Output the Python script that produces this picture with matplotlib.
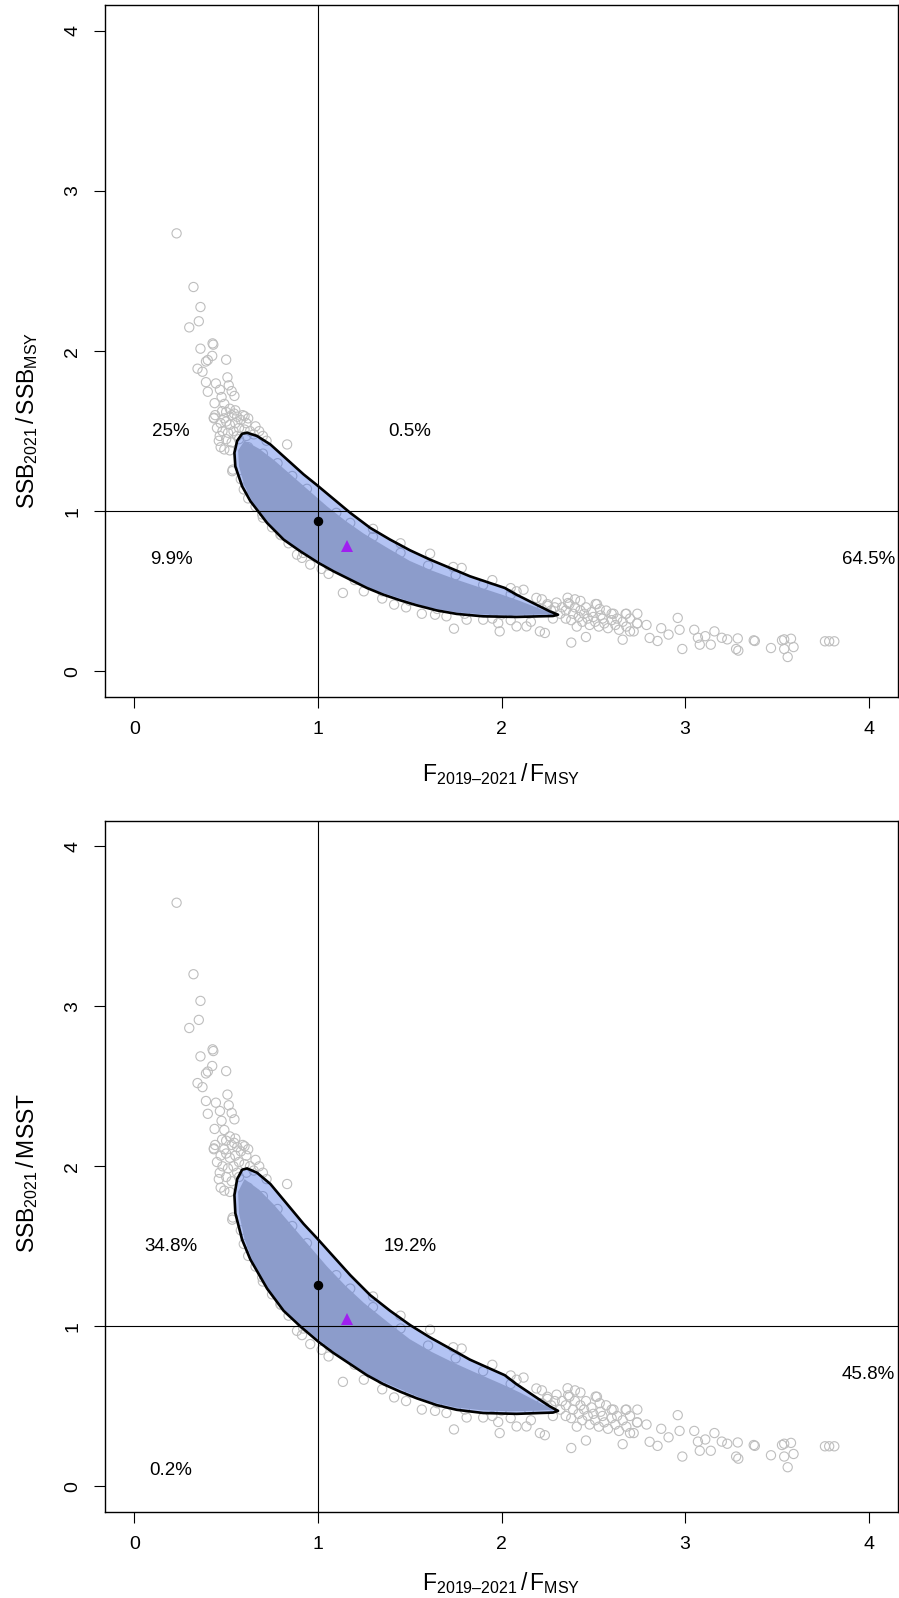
import matplotlib
matplotlib.use("Agg")
import matplotlib.pyplot as plt
from matplotlib.patches import Polygon

# Kobe-style phase plots: F/FMSY against SSB/SSBMSY and SSB/MSST

# bootstrap runs that fall outside / along the edges of the density contour
run_points = [
    (0.23, 2.735), (0.322, 2.40), (0.36, 2.275), (0.351, 2.186), (0.299, 2.148),
    (0.426, 2.048), (0.43, 2.04), (0.36, 2.015), (0.424, 1.97), (0.50, 1.946),
    (0.40, 1.944), (0.39, 1.935), (0.344, 1.89), (0.371, 1.871), (0.507, 1.836),
    (0.39, 1.806), (0.444, 1.798), (0.514, 1.786), (0.40, 1.746), (0.466, 1.759),
    (0.53, 1.75), (0.545, 1.72), (0.475, 1.713), (0.437, 1.675), (0.49, 1.67),
    (0.52, 1.64), (0.478, 1.625), (0.433, 1.58), (0.543, 1.61), (0.60, 1.594),
    (0.465, 1.47), (0.49, 1.386),
    (0.50, 1.62), (0.53, 1.60), (0.56, 1.59), (0.58, 1.57), (0.61, 1.55),
    (0.47, 1.55), (0.50, 1.56), (0.52, 1.54), (0.55, 1.55), (0.57, 1.52),
    (0.60, 1.51), (0.63, 1.50), (0.65, 1.48), (0.48, 1.50), (0.51, 1.49),
    (0.54, 1.50), (0.56, 1.47), (0.46, 1.44), (0.50, 1.45), (0.53, 1.43),
    (0.47, 1.40), (0.52, 1.38), (0.45, 1.52), (0.59, 1.60), (0.62, 1.58),
    (0.66, 1.53), (0.68, 1.50), (0.44, 1.60), (0.55, 1.63), (0.49, 1.58),
    (0.533, 1.25), (0.536, 1.26), (0.433, 1.584), (0.832, 1.417), (0.57, 1.45),
    (0.61, 1.47), (0.70, 1.47), (0.72, 1.44),
    (0.596, 1.136), (0.66, 1.03), (0.696, 0.98), (0.795, 0.854), (0.886, 0.729),
    (0.913, 0.709), (0.958, 0.667), (1.058, 0.609), (1.136, 0.49), (0.75, 0.90),
    (0.84, 0.80), (1.02, 0.64),
    (1.415, 0.417), (1.566, 0.36), (1.638, 0.354), (1.70, 0.344), (1.741, 0.267),
    (1.81, 0.323), (1.90, 0.323), (1.982, 0.302), (1.99, 0.25), (2.082, 0.281),
    (2.136, 0.281), (2.209, 0.25), (2.236, 0.24), (1.25, 0.50), (1.35, 0.455),
    (1.48, 0.40), (1.95, 0.33), (2.05, 0.32), (2.16, 0.31),
    (1.176, 0.927), (1.611, 0.735), (1.737, 0.652), (1.783, 0.646), (2.082, 0.50),
    (2.12, 0.51), (2.19, 0.459), (2.22, 0.45), (2.05, 0.52), (1.95, 0.57),
    (2.25, 0.42), (2.29, 0.40), (1.30, 0.89), (1.45, 0.80),
    (2.30, 0.43), (2.33, 0.40), (2.35, 0.38), (2.37, 0.42), (2.39, 0.36),
    (2.40, 0.40), (2.42, 0.34), (2.43, 0.38), (2.44, 0.31), (2.45, 0.36),
    (2.46, 0.40), (2.47, 0.33), (2.48, 0.29), (2.49, 0.37), (2.50, 0.34),
    (2.51, 0.31), (2.52, 0.42), (2.53, 0.28), (2.54, 0.35), (2.55, 0.33),
    (2.56, 0.30), (2.57, 0.38), (2.58, 0.27), (2.60, 0.32), (2.61, 0.36),
    (2.62, 0.29), (2.63, 0.33), (2.64, 0.26), (2.66, 0.31), (2.68, 0.28),
    (2.70, 0.33), (2.72, 0.25), (2.74, 0.30), (2.38, 0.32), (2.41, 0.28),
    (2.35, 0.33), (2.32, 0.36), (2.27, 0.38), (2.25, 0.41), (2.28, 0.33),
    (2.43, 0.44), (2.36, 0.46), (2.40, 0.45),
    (2.363, 0.427), (2.513, 0.421), (2.535, 0.39), (2.60, 0.36), (2.68, 0.36),
    (2.74, 0.36), (2.38, 0.18), (2.46, 0.215), (2.66, 0.198), (2.70, 0.25),
    (2.807, 0.209), (2.85, 0.19), (2.96, 0.334), (2.87, 0.27), (2.91, 0.23),
    (2.97, 0.26), (2.985, 0.14), (3.05, 0.26), (3.07, 0.21), (3.08, 0.167),
    (3.11, 0.22), (3.16, 0.25), (3.14, 0.167), (3.20, 0.21), (3.23, 0.20),
    (3.287, 0.206), (3.278, 0.14), (3.29, 0.13), (3.374, 0.194), (3.38, 0.19),
    (3.468, 0.146), (3.528, 0.194), (3.54, 0.20), (3.577, 0.204), (3.591, 0.152),
    (3.54, 0.14), (3.559, 0.09), (3.762, 0.188), (3.785, 0.188), (3.813, 0.188),
    (2.738, 0.30), (2.676, 0.359), (2.79, 0.29),
    (0.62, 1.40), (0.70, 1.36), (0.78, 1.30), (0.86, 1.22), (0.94, 1.14),
    (1.10, 0.99), (1.30, 0.84), (1.45, 0.74), (1.60, 0.66), (1.75, 0.60),
    (1.90, 0.54), (2.05, 0.48), (2.22, 0.39),
    (0.58, 1.20), (0.62, 1.08), (0.70, 0.96), (0.80, 0.85),
    (0.92, 0.74), (1.06, 0.66), (1.20, 0.57), (1.35, 0.50), (1.50, 0.44),
    (1.65, 0.39), (1.80, 0.36), (2.00, 0.355), (2.15, 0.36),
]

# dense core of the runs (solid mass of overlapping symbols)
core_f = [0.60, 0.68, 0.76, 0.85, 0.95, 1.05, 1.15, 1.25, 1.38, 1.50, 1.62, 1.75,
          1.88, 2.00, 2.10, 2.20, 2.28,
          2.20, 2.05, 1.90, 1.75, 1.60, 1.45, 1.30, 1.15, 1.00, 0.90, 0.80, 0.72,
          0.65, 0.60, 0.57, 0.565]
core_ssb = [1.44, 1.39, 1.32, 1.23, 1.13, 1.03, 0.94, 0.86, 0.77, 0.69, 0.63, 0.575,
            0.525, 0.48, 0.44, 0.395, 0.36,
            0.355, 0.352, 0.356, 0.37, 0.40, 0.455, 0.51, 0.59, 0.69, 0.76, 0.84, 0.93,
            1.04, 1.16, 1.28, 1.38]

# density contour of the runs
contour_f = [0.56, 0.587, 0.614, 0.668, 0.741, 0.832, 0.922, 0.998, 1.067, 1.176,
             1.285, 1.393, 1.502, 1.611, 1.72, 1.828, 1.937, 2.018, 2.082, 2.172,
             2.263, 2.308,
             2.28, 2.209, 2.082, 1.90, 1.756, 1.647, 1.538, 1.448, 1.357, 1.267,
             1.176, 1.085, 1.004, 0.904, 0.813, 0.723, 0.632, 0.587, 0.55, 0.545]
contour_ssb = [1.44, 1.484, 1.49, 1.47, 1.417, 1.323, 1.23, 1.16, 1.094, 0.99,
               0.896, 0.823, 0.756, 0.698, 0.646, 0.594, 0.552, 0.521, 0.479, 0.427,
               0.375, 0.354,
               0.346, 0.344, 0.34, 0.344, 0.359, 0.381, 0.413, 0.444, 0.479, 0.521,
               0.573, 0.625, 0.677, 0.75, 0.823, 0.927, 1.063, 1.156, 1.28, 1.365]

f_current, ssb_current = 1.0, 0.942     # point estimate
f_median, ssb_median = 1.158, 0.783     # median of the runs
msst_frac = 0.75                        # MSST as a fraction of SSBmsy

ticks = [0, 1, 2, 3, 4]

# quadrant percentages: (x, y, text)
pct_msy = [(0.2, 1.5, "25%"), (1.5, 1.5, "0.5%"), (0.2, 0.7, "9.9%"), (4.0, 0.7, "64.5%")]
pct_msst = [(0.2, 1.5, "34.8%"), (1.5, 1.5, "19.2%"), (0.2, 0.1, "0.2%"), (4.0, 0.7, "45.8%")]

plt.rcParams["font.family"] = ["Liberation Sans", "DejaVu Sans"]
plt.rcParams["mathtext.fontset"] = "custom"
plt.rcParams["mathtext.rm"] = "Liberation Sans"
plt.rcParams["mathtext.it"] = "Liberation Sans"
plt.rcParams["mathtext.bf"] = "Liberation Sans:bold"

xlab = r"$\mathrm{F}_{\mathrm{2019–2021}}\,/\,\mathrm{F}_{\mathrm{MSY}}$"


def draw_panel(ax, scale, ylab, ylab_pos, xlab_pos, pcts):
    pf = [p[0] for p in run_points]
    ps = [p[1] / scale for p in run_points]
    ax.add_patch(Polygon(list(zip(core_f, [v / scale for v in core_ssb])),
                         closed=True, facecolor="#bebebe", edgecolor="none", zorder=1))
    ax.scatter(pf, ps, s=44, facecolors="none", edgecolors="#bebebe",
               linewidths=0.8, zorder=1.5)
    cpts = list(zip(contour_f, [v / scale for v in contour_ssb]))
    ax.add_patch(Polygon(cpts, closed=True, facecolor="royalblue", alpha=0.4,
                         edgecolor="none", zorder=2))
    ax.add_patch(Polygon(cpts, closed=True, facecolor="none", edgecolor="black",
                         linewidth=1.9, joinstyle="round", zorder=3))
    ax.axvline(1, color="black", lw=0.8, zorder=3)
    ax.axhline(1, color="black", lw=0.8, zorder=3)
    ax.plot(f_current, ssb_current / scale, "o", color="black", ms=5.8, zorder=4)
    ax.plot(f_median, ssb_median / scale, "^", color="#a020f0", ms=8,
            markeredgewidth=0, zorder=4)
    for x, y, t in pcts:
        ax.text(x, y, t, ha="center", va="center", fontsize=13.5, zorder=5)

    ax.set_xlim(-0.16, 4.16)
    ax.set_ylim(-0.16, 4.16)
    ax.set_xticks(ticks)
    ax.set_yticks(ticks)
    ax.tick_params(direction="out", length=8, width=0.8, labelsize=14, pad=9)
    for lab in ax.get_yticklabels():
        lab.set_rotation(90)
        lab.set_va("center")
    for sp in ax.spines.values():
        sp.set_linewidth(1.0)
    ax.set_xlabel(xlab, fontsize=16.5)
    ax.set_ylabel(ylab, fontsize=16.5)
    ax.xaxis.set_label_coords(0.5, xlab_pos)
    ax.yaxis.set_label_coords(-0.082, ylab_pos)


fig = plt.figure(figsize=(8.99, 15.98), dpi=100)
ax1 = fig.add_axes([0.1168, 0.5638, 0.8821, 0.4330])
ax2 = fig.add_axes([0.1168, 0.0538, 0.8821, 0.4327])

draw_panel(ax1, 1.0, r"$\mathrm{SSB}_{\mathrm{2021}}\,/\,\mathrm{SSB}_{\mathrm{MSY}}$",
           0.40, -0.093, pct_msy)
draw_panel(ax2, msst_frac, r"$\mathrm{SSB}_{\mathrm{2021}}\,/\,\mathrm{MSST}$",
           0.49, -0.084, pct_msst)

fig.savefig("out.png", dpi=100)
